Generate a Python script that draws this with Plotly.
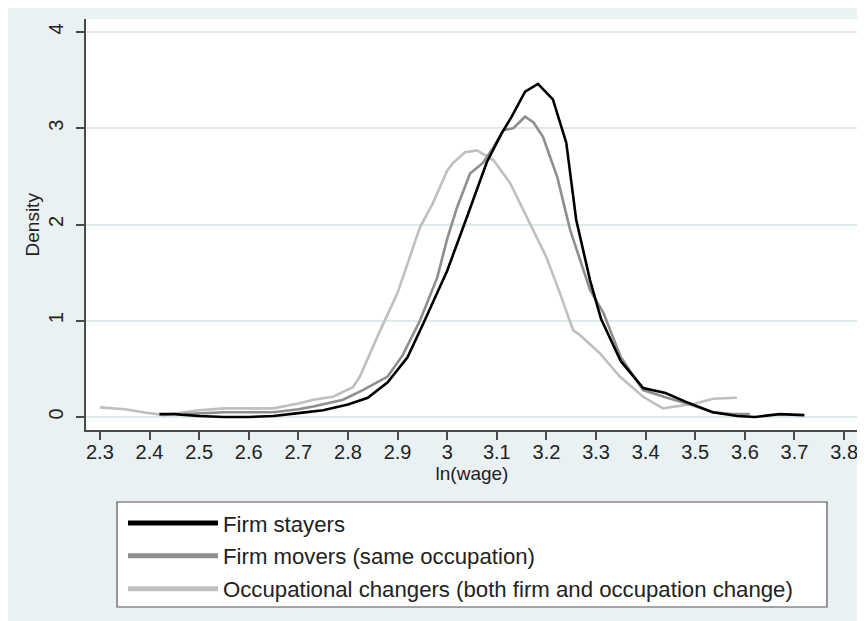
import plotly.graph_objects as go

# ---- data ----
stayers_x = [2.42, 2.45, 2.5, 2.55, 2.6, 2.65, 2.7, 2.75, 2.8, 2.84, 2.88, 2.92, 2.95, 2.985,
             3.0, 3.04, 3.08, 3.11, 3.13, 3.157, 3.183, 3.213, 3.24, 3.26, 3.288, 3.31, 3.35,
             3.395, 3.44, 3.48, 3.535, 3.585, 3.62, 3.67, 3.72]
stayers_y = [0.03, 0.03, 0.01, 0.0, 0.0, 0.01, 0.04, 0.07, 0.13, 0.2, 0.36, 0.62, 0.95, 1.35,
             1.52, 2.08, 2.65, 2.95, 3.12, 3.38, 3.46, 3.3, 2.85, 2.05, 1.42, 1.02, 0.58,
             0.3, 0.25, 0.16, 0.05, 0.01, 0.0, 0.03, 0.02]

movers_x = [2.47, 2.5, 2.55, 2.6, 2.65, 2.7, 2.73, 2.79, 2.83, 2.88, 2.91, 2.945, 2.98, 3.0,
            3.02, 3.046, 3.072, 3.093, 3.113, 3.133, 3.157, 3.174, 3.193, 3.222, 3.248, 3.288,
            3.315, 3.35, 3.395, 3.443, 3.483, 3.536, 3.576, 3.61]
movers_y = [0.03, 0.04, 0.05, 0.05, 0.05, 0.08, 0.11, 0.18, 0.28, 0.42, 0.64, 1.0, 1.45, 1.85,
            2.18, 2.53, 2.64, 2.8, 2.98, 3.0, 3.12, 3.06, 2.91, 2.49, 1.94, 1.32,
            1.08, 0.62, 0.28, 0.2, 0.14, 0.05, 0.03, 0.03]

changers_x = [2.3, 2.35, 2.4, 2.43, 2.47, 2.5, 2.55, 2.6, 2.65, 2.7, 2.73, 2.77, 2.81, 2.824,
              2.865, 2.9, 2.945, 2.971, 3.0, 3.012, 3.036, 3.06, 3.093, 3.127, 3.16, 3.2,
              3.227, 3.254, 3.268, 3.308, 3.348, 3.395, 3.435, 3.47, 3.5, 3.536, 3.584]
changers_y = [0.1, 0.08, 0.04, 0.02, 0.05, 0.07, 0.09, 0.09, 0.09, 0.14, 0.18, 0.21, 0.31, 0.42,
              0.9, 1.29, 1.97, 2.22, 2.56, 2.64, 2.75, 2.77, 2.67, 2.43, 2.08, 1.66,
              1.29, 0.9, 0.85, 0.66, 0.42, 0.21, 0.09, 0.12, 0.14, 0.19, 0.2]

series_names = ["Firm stayers",
                "Firm movers (same occupation)",
                "Occupational changers (both firm and occupation change)"]
x_ticks = [2.3, 2.4, 2.5, 2.6, 2.7, 2.8, 2.9, 3.0, 3.1, 3.2, 3.3, 3.4, 3.5, 3.6, 3.7, 3.8]
x_tick_labels = ["2.3", "2.4", "2.5", "2.6", "2.7", "2.8", "2.9", "3", "3.1", "3.2",
                 "3.3", "3.4", "3.5", "3.6", "3.7", "3.8"]
y_ticks = [0, 1, 2, 3, 4]

# ---- style ----
BG = "#e9f1f3"
GRID = "#dde9ed"
AXIS = "#4a4a4a"
TXT = "#222222"
FONT = "Liberation Sans, Arial, sans-serif"
colors = ["#000000", "#8e8e8e", "#bfbfbf"]

fig = go.Figure()
for i, (name, xs, ys, c) in enumerate(zip(series_names,
                                          [stayers_x, movers_x, changers_x],
                                          [stayers_y, movers_y, changers_y], colors)):
    fig.add_trace(go.Scatter(x=xs, y=ys, mode="lines", name=name, legendgroup=f"g{i}",
                             legendrank=i + 1, line=dict(color=c, width=2.6)))

# reverse drawing order so black is on top
fig.data = tuple(reversed(fig.data))

fig.update_layout(
    width=857, height=613,
    margin=dict(l=78, r=7, t=11, b=191, autoexpand=False),
    paper_bgcolor=BG, plot_bgcolor="white",
    font=dict(family=FONT, size=20, color=TXT),
    showlegend=True,
    legend=dict(
        xref="container", yref="container",
        x=0.1342, y=0.1941, xanchor="left", yanchor="top",
        bgcolor="rgba(0,0,0,0)", borderwidth=0,
        font=dict(family=FONT, size=22.2, color=TXT),
        traceorder="grouped", tracegroupgap=1,
        itemwidth=90, itemsizing="constant",
    ),
    xaxis=dict(
        range=[2.272, 3.828], tickvals=x_ticks, ticktext=x_tick_labels,
        showgrid=False, zeroline=False,
        showline=True, linecolor=AXIS, linewidth=1.5,
        ticks="outside", ticklen=8, tickwidth=1.5, tickcolor=AXIS,
        tickfont=dict(size=20, color=TXT), ticklabelstandoff=-5,
        title=dict(text="ln(wage)", font=dict(size=19, color=TXT), standoff=4),
    ),
    yaxis=dict(
        range=[-0.135, 4.135], tickvals=y_ticks,
        showgrid=True, gridcolor=GRID, gridwidth=1.5, zeroline=False,
        showline=True, linecolor=AXIS, linewidth=1.5,
        ticks="outside", ticklen=8, tickwidth=1.5, tickcolor=AXIS,
        tickangle=-90, tickfont=dict(size=20, color=TXT), ticklabelstandoff=5,
    ),
    annotations=[
        dict(text="Density", xref="paper", yref="paper", x=-0.0687, y=0.5,
             xanchor="center", yanchor="middle", textangle=-90, showarrow=False,
             font=dict(family=FONT, size=19, color=TXT)),
    ],
    shapes=[
        # legend frame
        dict(type="rect", xref="paper", yref="paper", x0=0.0402, x1=0.9598,
             y0=-0.4307, y1=-0.1752, fillcolor="white",
             line=dict(color="#555555", width=1.2), layer="above"),
    ],
)

fig.write_html("out.html")
